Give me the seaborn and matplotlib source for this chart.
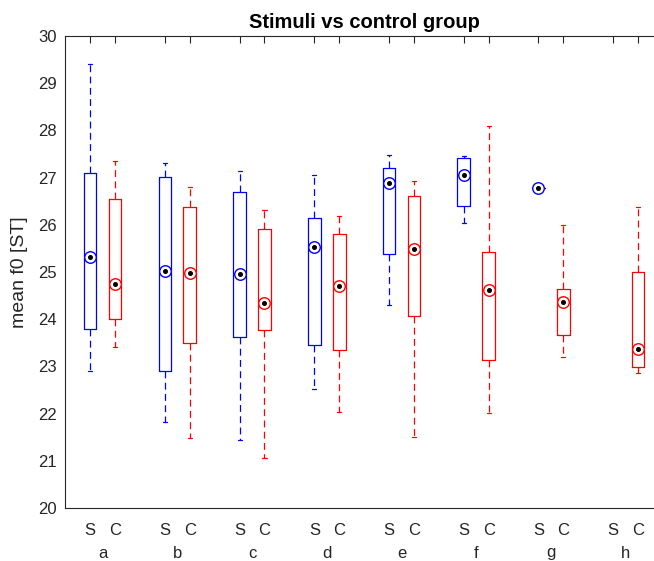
import numpy as np
import pandas as pd
import matplotlib
matplotlib.use("Agg")
import matplotlib.pyplot as plt
import seaborn as sns

# ---- data ----
groups = ["a", "b", "c", "d", "e", "f", "g", "h"]
conditions = ["S", "C"]
# five-number summaries per group: lower whisker, q1, median, q3, upper whisker
stim_low = [22.90, 21.82, 21.45, 22.53, 24.30, 26.03, 26.78, np.nan]
stim_q1 = [23.80, 22.90, 23.62, 23.45, 25.38, 26.40, 26.78, np.nan]
stim_med = [25.32, 25.02, 24.95, 25.52, 26.88, 27.06, 26.78, np.nan]
stim_q3 = [27.10, 27.02, 26.70, 26.15, 27.20, 27.41, 26.78, np.nan]
stim_high = [29.40, 27.30, 27.15, 27.05, 27.47, 27.45, 26.78, np.nan]

ctrl_low = [23.42, 21.48, 21.05, 22.03, 21.50, 22.01, 23.20, 22.87]
ctrl_q1 = [24.00, 23.50, 23.78, 23.35, 24.07, 23.13, 23.67, 22.98]
ctrl_med = [24.75, 24.97, 24.35, 24.70, 25.48, 24.61, 24.37, 23.37]
ctrl_q3 = [26.55, 26.37, 25.92, 25.80, 26.60, 25.43, 24.63, 25.00]
ctrl_high = [27.35, 26.80, 26.32, 26.18, 26.93, 28.10, 26.00, 26.38]

colors = {"S": "#0000ff", "C": "#ff0000"}

rows = []
for cond, arrs in [("S", [stim_low, stim_q1, stim_med, stim_q3, stim_high]),
                   ("C", [ctrl_low, ctrl_q1, ctrl_med, ctrl_q3, ctrl_high])]:
    for i, g in enumerate(groups):
        vals = [a[i] for a in arrs]
        if np.isnan(vals[2]):
            continue
        for v in vals:
            rows.append({"group": g, "cond": cond, "f0": v})
df = pd.DataFrame(rows)

# ---- figure ----
sns.set_theme(style="white")
plt.rcParams["font.family"] = ["Liberation Sans", "DejaVu Sans"]
axcol = "#262626"

fig = plt.figure(figsize=(6.54, 5.61), dpi=100)
W, H = 654, 561
left, right, top, bottom = 65, 663, 36, 508
ax = fig.add_axes([left / W, (H - bottom) / H, (right - left) / W, (bottom - top) / H])

box_width = 2 / 3
sns.boxplot(data=df, x="group", y="f0", hue="cond", order=groups,
            hue_order=conditions, palette=colors, fill=False,
            width=box_width, gap=0.49, whis=np.inf, linewidth=0.9,
            capwidths=0.055,
            whiskerprops=dict(linestyle=(0, (5.5, 3.5))),
            medianprops=dict(linewidth=0),
            legend=False, ax=ax)

# median "target" markers
offsets = {"S": -box_width / 4, "C": box_width / 4}
for cond, meds in [("S", stim_med), ("C", ctrl_med)]:
    for i, m in enumerate(meds):
        if np.isnan(m):
            continue
        x = i + offsets[cond]
        ax.plot([x], [m], marker="o", ms=8.3, mfc="white", mec=colors[cond],
                mew=1.0, linestyle="none", zorder=5)
        ax.plot([x], [m], marker="o", ms=2.6, color="black",
                linestyle="none", zorder=6)

ax.set_xlim(-0.503, 7.5)
ax.set_ylim(20, 30)
ax.set_yticks(range(20, 31))

pos, labs = [], []
for i in range(len(groups)):
    for c in conditions:
        pos.append(i + offsets[c])
        labs.append(c)
ax.set_xticks(pos, labs)
ax.set_xticks(range(len(groups)), groups, minor=True)

ax.tick_params(axis="both", which="major", direction="in", length=5,
               width=0.8, color=axcol, labelcolor=axcol, labelsize=12)
ax.tick_params(axis="x", which="major", top=True, pad=10.5)
ax.tick_params(axis="y", which="major", right=True, pad=6)
ax.tick_params(axis="x", which="minor", length=0, pad=27,
               labelsize=12, labelcolor=axcol)

for s in ax.spines.values():
    s.set_color(axcol)
    s.set_linewidth(0.8)

ax.set_xlabel("")
ax.set_ylabel("mean f0 [ST]", fontsize=14, color=axcol, labelpad=7)
ax.set_title("Stimuli vs control group", fontsize=14.5, fontweight="bold",
             color="black", pad=6)

fig.savefig("out.png", dpi=100)
